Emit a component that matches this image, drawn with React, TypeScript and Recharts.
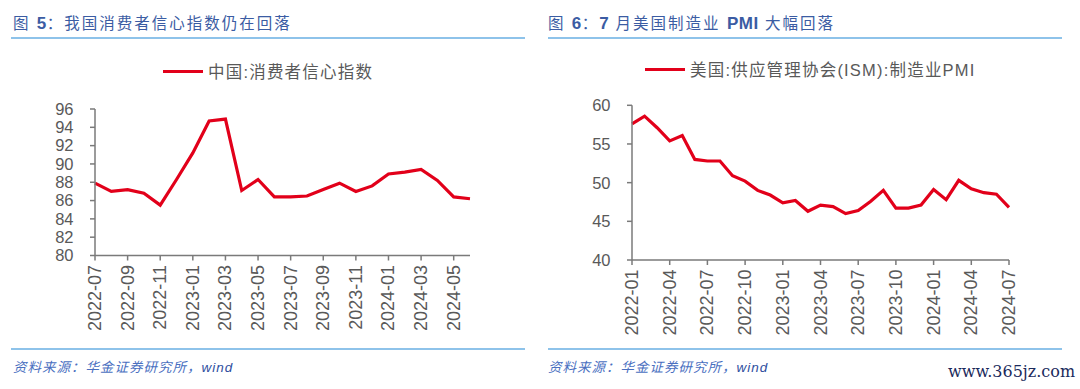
import React from 'react';
import { LineChart, Line, XAxis, YAxis } from 'recharts';

const cnMonths = [
  '2022-07', '2022-08', '2022-09', '2022-10', '2022-11', '2022-12',
  '2023-01', '2023-02', '2023-03', '2023-04', '2023-05', '2023-06',
  '2023-07', '2023-08', '2023-09', '2023-10', '2023-11', '2023-12',
  '2024-01', '2024-02', '2024-03', '2024-04', '2024-05', '2024-06',
];
const cnConfidence = [
  87.9, 87.0, 87.2, 86.8, 85.5, 88.3,
  91.2, 94.7, 94.9, 87.1, 88.3, 86.4,
  86.4, 86.5, 87.2, 87.9, 87.0, 87.6,
  88.9, 89.1, 89.4, 88.2, 86.4, 86.2,
];
const cnTicks = [80, 82, 84, 86, 88, 90, 92, 94, 96];

const usMonths = [
  '2022-01', '2022-02', '2022-03', '2022-04', '2022-05', '2022-06',
  '2022-07', '2022-08', '2022-09', '2022-10', '2022-11', '2022-12',
  '2023-01', '2023-02', '2023-03', '2023-04', '2023-05', '2023-06',
  '2023-07', '2023-08', '2023-09', '2023-10', '2023-11', '2023-12',
  '2024-01', '2024-02', '2024-03', '2024-04', '2024-05', '2024-06',
  '2024-07',
];
const usPmi = [
  57.6, 58.6, 57.1, 55.4, 56.1, 53.0,
  52.8, 52.8, 50.9, 50.2, 49.0, 48.4,
  47.4, 47.7, 46.3, 47.1, 46.9, 46.0,
  46.4, 47.6, 49.0, 46.7, 46.7, 47.1,
  49.1, 47.8, 50.3, 49.2, 48.7, 48.5,
  46.8,
];
const usTicks = [40, 45, 50, 55, 60];

const cnData = cnMonths.map((m, i) => ({ month: m, value: cnConfidence[i] }));
const usData = usMonths.map((m, i) => ({ month: m, value: usPmi[i] }));

const LATIN = '"Liberation Sans", Arial, "Noto Sans CJK SC", sans-serif';
const CJK = '"Liberation Sans", "Noto Sans CJK SC", sans-serif';
const RED = '#E2001A';
const AXIS = '#7a7a7a';
const TICKTXT = '#595959';
const TITLE = '#3B5CA3';
const RULE = '#8EC3EA';

const RotTick = (props: any) => {
  const { x, y, payload } = props;
  const ty = y + 1.5;
  return (
    <text
      x={x}
      y={ty}
      transform={`rotate(-90, ${x}, ${ty})`}
      textAnchor="end"
      dominantBaseline="central"
      fontSize={18}
      fontFamily={LATIN}
      fill={TICKTXT}
    >
      {payload.value}
    </text>
  );
};

const B = ({ children }: { children: React.ReactNode }) => (
  <b style={{ fontFamily: LATIN, fontSize: 17, letterSpacing: 0.5 }}>{children}</b>
);

const Title = ({ left, children }: { left: number; children: React.ReactNode }) => (
  <div style={{ position: 'absolute', left, top: 14, fontFamily: CJK, fontSize: 15.5, color: TITLE, letterSpacing: 2, whiteSpace: 'nowrap', lineHeight: '20px' }}>
    {children}
  </div>
);

const LegendRow = ({ left, top, label }: { left: number; top: number; label: string }) => (
  <div style={{ position: 'absolute', left, top, display: 'flex', alignItems: 'center', whiteSpace: 'nowrap' }}>
    <div style={{ width: 40, height: 3, background: RED, marginRight: 5 }} />
    <span style={{ fontFamily: CJK, fontSize: 16.5, color: TICKTXT, letterSpacing: 1.2 }}>{label}</span>
  </div>
);

const Rule = ({ left, top, width }: { left: number; top: number; width: number }) => (
  <div style={{ position: 'absolute', left, top, width, height: 2, background: RULE }} />
);

const Footer = ({ left }: { left: number }) => (
  <div style={{ position: 'absolute', left, top: 356, fontFamily: CJK, fontSize: 13.5, fontStyle: 'italic', color: '#4A6FBF', letterSpacing: 1, whiteSpace: 'nowrap' }}>
    资料来源：华金证券研究所，<span style={{ color: '#2F4FA0' }}>wind</span>
  </div>
);

export default function App() {
  return (
    <div style={{ position: 'absolute', left: 0, top: 0, width: 1080, height: 389, background: '#fff', overflow: 'hidden' }}>
      <Title left={13}>图 <B>5</B>：我国消费者信心指数仍在回落</Title>
      <Title left={548}>图 <B>6</B>：<B>7</B> 月美国制造业 <B>PMI</B> 大幅回落</Title>
      <Rule left={11} top={37} width={514} />
      <Rule left={548} top={37} width={514} />

      <LegendRow left={163} top={59} label="中国:消费者信心指数" />
      <LegendRow left={645} top={57} label="美国:供应管理协会(ISM):制造业PMI" />

      <div style={{ position: 'absolute', left: 0, top: 0 }}>
        <LineChart width={540} height={389} data={cnData} margin={{ top: 109, right: 70, left: 35, bottom: 43.5 }}>
          <XAxis
            dataKey="month"
            interval={1}
            height={90}
            tickSize={5}
            tickMargin={3}
            tick={<RotTick />}
            axisLine={{ stroke: AXIS, strokeWidth: 1.5 }}
            tickLine={{ stroke: AXIS, strokeWidth: 1.5 }}
            padding={{ left: 0, right: 0 }}
          />
          <YAxis
            width={60}
            domain={[80, 96]}
            ticks={cnTicks}
            interval={0}
            tickSize={5}
            tickMargin={16.5}
            axisLine={{ stroke: AXIS, strokeWidth: 1.5 }}
            tickLine={{ stroke: AXIS, strokeWidth: 1.5 }}
            tick={{ fontSize: 16.5, fill: TICKTXT, fontFamily: LATIN }}
            allowDataOverflow
          />
          <Line type="linear" dataKey="value" stroke={RED} strokeWidth={3.2} dot={false} isAnimationActive={false} />
        </LineChart>
      </div>

      <div style={{ position: 'absolute', left: 540, top: 0 }}>
        <LineChart width={540} height={389} data={usData} margin={{ top: 105.3, right: 71, left: 32, bottom: 39 }}>
          <XAxis
            dataKey="month"
            interval={2}
            height={90}
            tickSize={5}
            tickMargin={3}
            tick={<RotTick />}
            axisLine={{ stroke: AXIS, strokeWidth: 1.5 }}
            tickLine={{ stroke: AXIS, strokeWidth: 1.5 }}
            padding={{ left: 0, right: 0 }}
          />
          <YAxis
            width={60}
            domain={[40, 60]}
            ticks={usTicks}
            interval={0}
            tickSize={5}
            tickMargin={16.5}
            axisLine={{ stroke: AXIS, strokeWidth: 1.5 }}
            tickLine={{ stroke: AXIS, strokeWidth: 1.5 }}
            tick={{ fontSize: 16.5, fill: TICKTXT, fontFamily: LATIN }}
            allowDataOverflow
          />
          <Line type="linear" dataKey="value" stroke={RED} strokeWidth={3.2} dot={false} isAnimationActive={false} />
        </LineChart>
      </div>

      <Rule left={11} top={348} width={514} />
      <Rule left={548} top={348} width={514} />
      <Footer left={13} />
      <Footer left={548} />

      <div style={{ position: 'absolute', left: 948, top: 362, fontFamily: '"DejaVu Serif", "Liberation Serif", serif', fontSize: 16, color: '#1B2A5C', whiteSpace: 'nowrap' }}>
        www.365jz.com
      </div>
    </div>
  );
}
